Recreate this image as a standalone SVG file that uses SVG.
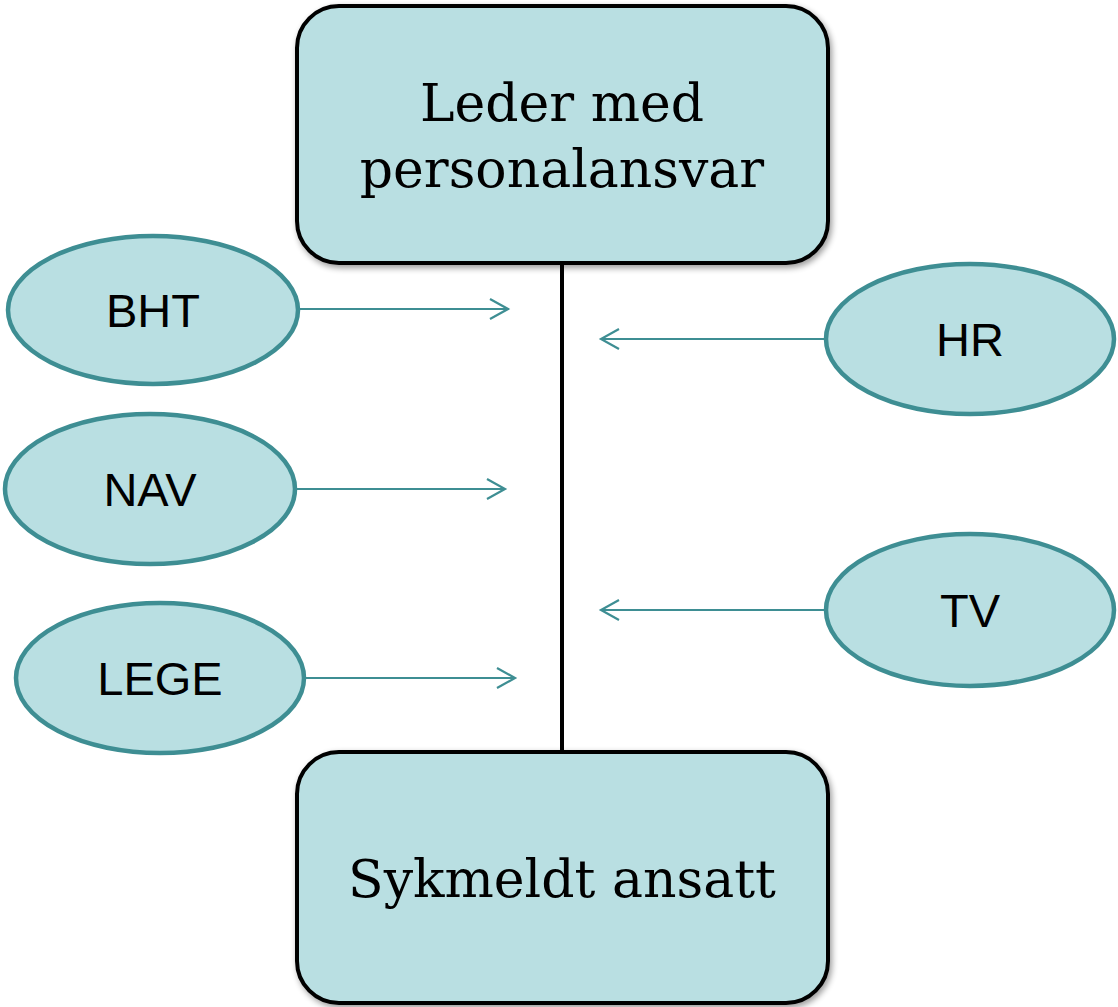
<svg xmlns="http://www.w3.org/2000/svg" width="1118" height="1007" viewBox="0 0 1118 1007">
<defs>
<style>
.box{fill:#b9dfe2;stroke:#000;stroke-width:4}
.ell{fill:#b9dfe2;stroke:#3e8e93;stroke-width:4.5}
.serif{font-family:"DejaVu Serif","Liberation Serif",serif;font-size:52px;fill:#000;text-anchor:middle}
.sans{font-family:"Liberation Sans",Arial,sans-serif;font-size:47px;fill:#000;text-anchor:middle}
.arr{stroke:#3e8e93;stroke-width:2.2;fill:none}
</style>
<filter id="sh" x="-10%" y="-10%" width="120%" height="120%">
<feGaussianBlur in="SourceAlpha" stdDeviation="3"/>
<feOffset dx="2" dy="3"/>
<feComponentTransfer><feFuncA type="linear" slope="0.4"/></feComponentTransfer>
<feMerge><feMergeNode/><feMergeNode in="SourceGraphic"/></feMerge>
</filter>
</defs>
<g id="connectors">
<line x1="562" y1="263" x2="562" y2="752" stroke="#000" stroke-width="4"/>
<path class="arr" d="M298 309H508M490 299L508 309L490 319"/>
<path class="arr" d="M295 489H505M487 479L505 489L487 499"/>
<path class="arr" d="M305 678H515M497 668L515 678L497 688"/>
<path class="arr" d="M826 339H601M619 329L601 339L619 349"/>
<path class="arr" d="M826 610H601M619 600L601 610L619 620"/>
</g>
<g id="leder">
<rect class="box" x="297" y="6" width="531" height="257" rx="42" filter="url(#sh)"/>
<text class="serif" x="562" y="121">Leder med</text>
<text class="serif" x="562" y="187">personalansvar</text>
</g>
<g id="sykmeldt">
<rect class="box" x="297" y="752" width="531" height="251" rx="42" filter="url(#sh)"/>
<text class="serif" x="562" y="897">Sykmeldt ansatt</text>
</g>
<g id="bht">
<ellipse class="ell" cx="153" cy="310" rx="145" ry="74"/>
<text class="sans" x="153" y="327">BHT</text>
</g>
<g id="hr">
<ellipse class="ell" cx="970" cy="339" rx="144" ry="75"/>
<text class="sans" x="970" y="356">HR</text>
</g>
<g id="nav">
<ellipse class="ell" cx="150" cy="489" rx="145" ry="75"/>
<text class="sans" x="150" y="506">NAV</text>
</g>
<g id="tv">
<ellipse class="ell" cx="970" cy="610" rx="144" ry="76"/>
<text class="sans" x="970" y="627">TV</text>
</g>
<g id="lege">
<ellipse class="ell" cx="160" cy="678" rx="144" ry="75"/>
<text class="sans" x="160" y="695">LEGE</text>
</g>
</svg>
